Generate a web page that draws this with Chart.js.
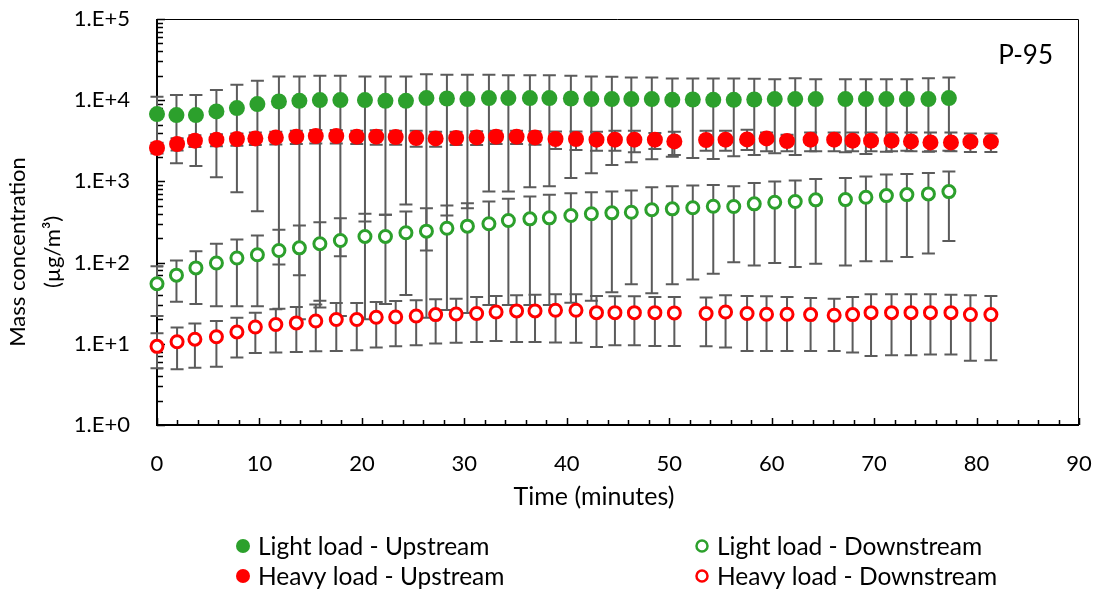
<!DOCTYPE html>
<html>
<head>
<meta charset="utf-8">
<script src="https://cdn.jsdelivr.net/npm/chart.js@4.4.1/dist/chart.umd.min.js"></script>
<style>
  html, body { margin: 0; padding: 0; background: #fff; }
  #wrap { width: 1101px; height: 593px; }
</style>
</head>
<body>
<div id="wrap"><canvas id="massChart" width="1101" height="593"></canvas></div>
<script>
// Sampling times (minutes)
const lightTime = [0, 1.9, 3.8, 5.8, 7.8, 9.8, 11.9, 13.9, 15.9, 17.9, 20.3, 22.3, 24.3, 26.3, 28.3, 30.3, 32.4, 34.3, 36.4, 38.3,
  40.4, 42.4, 44.4, 46.3, 48.3, 50.3, 52.3, 54.3, 56.3, 58.3, 60.3, 62.3, 64.3, 67.2, 69.2, 71.2, 73.2, 75.3, 77.3];
const heavyTime = [0, 1.96, 3.7, 5.8, 7.8, 9.6, 11.6, 13.6, 15.5, 17.5, 19.5, 21.4, 23.3, 25.3, 27.2, 29.2, 31.2, 33.1, 35.1, 36.9,
  38.9, 40.9, 42.9, 44.7, 46.6, 48.6, 50.5, 53.6, 55.5, 57.6, 59.5, 61.5, 63.8, 66.1, 67.9, 69.7, 71.7, 73.6, 75.5, 77.5, 79.4, 81.4];

// Light load - upstream (µg/m3) with error bar limits
const lightUp = [6750, 6560, 6560, 7265, 8000, 8960, 9640, 9830, 10030, 10030, 10030, 9830, 9830, 10610, 10490, 10310, 10610, 10610, 10610, 10610,
  10490, 10310, 10310, 10310, 10310, 10110, 10200, 10110, 10110, 10200, 10310, 10310, 10310, 10310, 10310, 10310, 10310, 10310, 10610];
const lightUpHigh = [11000, 11550, 11550, 13310, 15460, 17310, 19550, 19550, 19940, 19940, 19550, 19550, 19550, 20920, 20510, 20510, 20510, 20330, 20330, 20330,
  19940, 19550, 19390, 19010, 19010, 18480, 18480, 18480, 18480, 18320, 18160, 18680, 18160, 18160, 18160, 18160, 18160, 18680, 19010];
const lightUpLow = [2500, 1669, 1550, 1123, 735, 429, 95, 70, 34, 120, 321, 389, 519, 141, 380, 467, 749, 749, 846, 871,
  1105, 1257, 1595, 1717, 1869, 2017, 1944, 1889, 2034, 2117, 2214, 2117, 2343, 2278, 2177, 2323, 2390, 2323, 2390];

// Light load - downstream
const lightDown = [55, 70, 86, 99, 114, 125, 141, 152, 171, 187, 210, 210, 233, 244, 265, 281, 301, 330, 346, 356,
  380, 399, 410, 417, 447, 459, 473, 494, 490, 529, 554, 565, 593, 597, 638, 669, 688, 702, 749];
const lightDownHigh = [90, 106, 138, 171, 193, 216, 254, 286, 314, 352, 400, 389, 426, 467, 504, 538, 565, 610, 651, 683,
  714, 735, 749, 771, 846, 871, 888, 906, 871, 959, 994, 1023, 1073, 1105, 1146, 1212, 1236, 1272, 1320];
const lightDownLow = [22, 33, 31, 29, 29, 29, 27, 20, 28, 22, 20, 31, 40, 21, 26, 24, 30, 30, 30, 30,
  32, 34, 43, 54, 42, 54, 62, 73, 101, 92, 99, 88, 97, 92, 104, 104, 117, 129, 184];

// Heavy load - upstream
const heavyUp = [2579, 2888, 3172, 3262, 3327, 3384, 3482, 3552, 3623, 3623, 3552, 3552, 3521, 3423, 3384, 3423, 3482, 3552, 3552, 3482,
  3327, 3327, 3262, 3262, 3262, 3262, 3109, 3234, 3262, 3290, 3384, 3145, 3262, 3262, 3172, 3172, 3172, 3109, 3023, 3023, 3083, 3083];
const heavyUpHigh = [3000, 3400, 3700, 3800, 3900, 4000, 4100, 4200, 4300, 4300, 4200, 4250, 4200, 4207, 4092, 4092, 4150, 4200, 4200, 4150,
  4130, 4130, 4092, 4207, 4207, 3944, 4092, 4207, 4207, 4330, 4010, 3758, 4010, 4010, 4010, 4010, 4010, 4010, 4010, 4010, 3900, 3900];
const heavyUpLow = [2200, 2400, 2650, 2700, 2750, 2800, 2850, 2888, 2938, 2938, 2888, 2832, 2832, 2676, 2676, 2800, 2800, 2888, 2888, 2832,
  2507, 2438, 2390, 2390, 2278, 2507, 2117, 2390, 2390, 2438, 2355, 2355, 2355, 2355, 2355, 2355, 2355, 2355, 2355, 2355, 2300, 2300];

// Heavy load - downstream
const heavyDown = [9.3, 10.6, 11.4, 12.2, 14.0, 16.1, 17.3, 18.1, 19.1, 19.9, 19.9, 21.2, 21.4, 22.0, 22.9, 23.3, 23.6, 24.6, 25.4, 25.4,
  25.9, 25.9, 24.2, 24.2, 24.2, 24.2, 24.0, 23.6, 24.6, 23.6, 23.1, 23.1, 22.9, 22.5, 22.9, 24.2, 24.2, 24.2, 24.2, 24.2, 22.9, 22.9];
const heavyDownHigh = [13.5, 15.9, 17.8, 19.1, 21.0, 24.2, 26.6, 28.4, 30.4, 31.8, 31.8, 32.7, 33.7, 34.3, 35.3, 36.0, 37.7, 38.8, 39.5, 40.3,
  40.7, 40.7, 38.8, 38.4, 38.4, 37.7, 37.7, 37.1, 39.5, 38.8, 38.4, 37.7, 36.6, 36.0, 37.7, 40.7, 40.7, 40.7, 40.7, 40.3, 39.5, 38.8];
const heavyDownLow = [5.0, 4.87, 5.06, 5.2, 6.79, 7.73, 7.82, 7.95, 8.11, 8.18, 8.34, 9.01, 9.34, 9.61, 10.1, 10.3, 10.5, 10.8, 10.55, 10.55,
  10.4, 10.3, 9.16, 9.61, 9.61, 9.42, 9.42, 9.34, 9.01, 8.18, 8.18, 8.18, 8.18, 8.18, 7.82, 7.1, 7.24, 7.24, 7.39, 7.39, 6.17, 6.29];

// Y axis decades and their labels
const yTickValues = [1, 10, 100, 1000, 10000, 100000];
const yTickLabels = ['1.E+0', '1.E+1', '1.E+2', '1.E+3', '1.E+4', '1.E+5'];

const GREEN = '#2ca02c';
const RED = '#ff0000';
const FONT = 'Lato';

function points(times, values, lows, highs) {
  return times.map((t, i) => ({ x: t, y: values[i], lo: lows[i], hi: highs[i] }));
}

// Axis box with inward tick marks
const axisFrame = {
  id: 'axisFrame',
  beforeDatasetsDraw(chart) {
    const { ctx, chartArea: a, scales: { x, y } } = chart;
    ctx.save();
    ctx.strokeStyle = '#000';
    ctx.lineWidth = 1;
    ctx.beginPath();
    ctx.moveTo(a.left, a.top + 0.5);
    ctx.lineTo(a.right - 0.5, a.top + 0.5);
    ctx.lineTo(a.right - 0.5, a.bottom);
    ctx.stroke();

    ctx.lineWidth = 1.5;
    ctx.beginPath();
    for (let v = 0; v <= 90; v += 2) {
      const px = Math.round(x.getPixelForValue(v)) + 0.5;
      const len = v % 10 === 0 ? 7 : 5;
      ctx.moveTo(px, a.bottom);
      ctx.lineTo(px, a.bottom - len);
    }
    for (let d = 1; d < 100000; d *= 10) {
      for (let m = 1; m <= 10; m++) {
        const py = Math.round(y.getPixelForValue(d * m)) + 0.5;
        const len = m === 1 || m === 10 ? 8 : 6;
        ctx.moveTo(a.left, py);
        ctx.lineTo(a.left + len, py);
      }
    }
    ctx.stroke();

    ctx.lineWidth = 2;
    ctx.beginPath();
    ctx.moveTo(a.left, a.top);
    ctx.lineTo(a.left, a.bottom);
    ctx.lineTo(a.right, a.bottom);
    ctx.stroke();
    ctx.restore();
  }
};

// Vertical error bars with caps, drawn under the markers
const errorBars = {
  id: 'errorBars',
  beforeDatasetsDraw(chart) {
    const { ctx, chartArea: a, scales: { x, y } } = chart;
    ctx.save();
    ctx.strokeStyle = '#5b5b5b';
    ctx.lineWidth = 2;
    chart.data.datasets.forEach((ds) => {
      ds.data.forEach((p) => {
        const px = x.getPixelForValue(p.x);
        const top = y.getPixelForValue(p.hi);
        const bot = Math.min(y.getPixelForValue(p.lo), a.bottom);
        ctx.beginPath();
        ctx.moveTo(px, top);
        ctx.lineTo(px, bot);
        ctx.moveTo(px - 6.5, top);
        ctx.lineTo(px + 6.5, top);
        if (bot < a.bottom) {
          ctx.moveTo(px - 6.5, bot);
          ctx.lineTo(px + 6.5, bot);
        }
        ctx.stroke();
      });
    });
    ctx.restore();
  }
};

// Axis titles, panel label and the two-column legend
const annotations = {
  id: 'annotations',
  afterDraw(chart) {
    const { ctx } = chart;
    ctx.save();
    ctx.fillStyle = '#000';
    ctx.textAlign = 'center';
    ctx.textBaseline = 'middle';
    ctx.font = `22px ${FONT}`;
    [['Mass concentration', 18], ['(µg/m³)', 53]].forEach(([txt, cx]) => {
      ctx.save();
      ctx.translate(cx, 252);
      ctx.rotate(-Math.PI / 2);
      ctx.fillText(txt, 0, 0);
      ctx.restore();
    });

    ctx.font = `25px ${FONT}`;
    ctx.fillText('Time (minutes)', 594, 497);

    ctx.font = `26px ${FONT}`;
    ctx.textAlign = 'right';
    ctx.fillText('P-95', 1053, 56);

    ctx.font = `24.5px ${FONT}`;
    ctx.textAlign = 'left';
    chart.data.datasets.forEach((ds, i) => {
      const mx = i % 2 === 0 ? 243 : 702;
      const my = i < 2 ? 546 : 576;
      ctx.beginPath();
      if (ds.pointBackgroundColor === '#fff') {
        ctx.arc(mx, my, 5.5, 0, Math.PI * 2);
        ctx.fillStyle = '#fff';
        ctx.fill();
        ctx.lineWidth = 2.5;
        ctx.strokeStyle = ds.pointBorderColor;
        ctx.stroke();
      } else {
        ctx.arc(mx, my, 7, 0, Math.PI * 2);
        ctx.fillStyle = ds.pointBackgroundColor;
        ctx.fill();
      }
      ctx.fillStyle = '#000';
      ctx.fillText(ds.label, mx + 15, my + 1);
    });
    ctx.restore();
  }
};

new Chart(document.getElementById('massChart'), {
  type: 'scatter',
  data: {
    datasets: [
      {
        label: 'Light load - Upstream',
        data: points(lightTime, lightUp, lightUpLow, lightUpHigh),
        pointRadius: 8,
        pointBorderWidth: 0,
        pointBackgroundColor: GREEN,
        pointBorderColor: GREEN,
      },
      {
        label: 'Light load - Downstream',
        data: points(lightTime, lightDown, lightDownLow, lightDownHigh),
        pointRadius: 6,
        pointBorderWidth: 3,
        pointBackgroundColor: '#fff',
        pointBorderColor: GREEN,
      },
      {
        label: 'Heavy load - Upstream',
        data: points(heavyTime, heavyUp, heavyUpLow, heavyUpHigh),
        pointRadius: 8,
        pointBorderWidth: 0,
        pointBackgroundColor: RED,
        pointBorderColor: RED,
      },
      {
        label: 'Heavy load - Downstream',
        data: points(heavyTime, heavyDown, heavyDownLow, heavyDownHigh),
        pointRadius: 6,
        pointBorderWidth: 3,
        pointBackgroundColor: '#fff',
        pointBorderColor: RED,
      },
    ].map((ds) => ({ ...ds, showLine: false, clip: false, pointHoverRadius: ds.pointRadius })),
  },
  options: {
    responsive: false,
    animation: false,
    devicePixelRatio: 1,
    events: [],
    layout: { padding: { top: 19, right: 22, left: 0, bottom: 0 } },
    plugins: {
      legend: { display: false },
      tooltip: { enabled: false },
    },
    scales: {
      x: {
        type: 'linear',
        min: 0,
        max: 90,
        grid: { display: false, drawTicks: false },
        border: { display: false },
        ticks: { stepSize: 10, padding: 26, color: '#000', font: { family: FONT, size: 22 } },
        // fixed band below the plot; no extra room for edge labels
        afterFit: (s) => { s.height = 168; s.paddingLeft = 0; s.paddingRight = 0; },
      },
      y: {
        type: 'logarithmic',
        min: 1,
        max: 100000,
        grid: { display: false, drawTicks: false },
        border: { display: false },
        afterBuildTicks: (s) => { s.ticks = yTickValues.map((v) => ({ value: v })); },
        ticks: {
          padding: 27,
          color: '#000',
          font: { family: FONT, size: 22 },
          callback: (v) => yTickLabels[yTickValues.indexOf(v)],
        },
        afterFit: (s) => { s.width = 157; s.paddingTop = 0; s.paddingBottom = 0; },
      },
    },
  },
  plugins: [axisFrame, errorBars, annotations],
});
</script>
</body>
</html>
